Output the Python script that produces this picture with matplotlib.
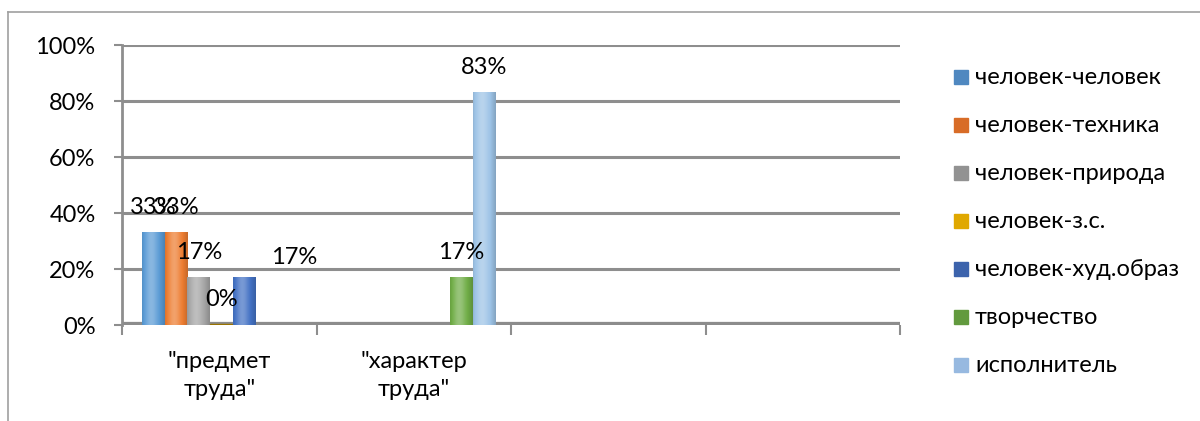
import matplotlib
matplotlib.use("Agg")
import matplotlib.pyplot as plt
import numpy as np
from matplotlib.patches import Rectangle
from matplotlib.colors import to_rgb
from matplotlib.lines import Line2D

plt.rcParams['font.family'] = ['Lato', 'DejaVu Sans']

# ---- data ----
categories = ['"предмет\nтруда"', '"характер\nтруда"', '', '']
series = ['человек-человек', 'человек-техника', 'человек-природа', 'человек-з.с.',
          'человек-худ.образ', 'творчество', 'исполнитель']
# values per series for each category (None = no bar)
values = {
    'человек-человек':   [0.33, None, None, None],
    'человек-техника':   [0.33, None, None, None],
    'человек-природа':   [0.17, None, None, None],
    'человек-з.с.':      [0.00, None, None, None],
    'человек-худ.образ': [0.17, None, None, None],
    'творчество':        [None, 0.17, None, None],
    'исполнитель':       [None, 0.83, None, None],
}
labels = {
    'человек-человек':   ['33%', None, None, None],
    'человек-техника':   ['33%', None, None, None],
    'человек-природа':   ['17%', None, None, None],
    'человек-з.с.':      ['0%', None, None, None],
    'человек-худ.образ': ['17%', None, None, None],
    'творчество':        [None, '17%', None, None],
    'исполнитель':       [None, '83%', None, None],
}
yticks = [0, 0.2, 0.4, 0.6, 0.8, 1.0]
ytick_labels = ['0%', '20%', '40%', '60%', '80%', '100%']

# ---- styles ----
colors = ['#5B9BD5', '#ED7D31', '#A5A5A5', '#FFC000', '#4472C4', '#70AD47', '#9DC3E6']
legend_colors = ['#4F88C0', '#D86C27', '#929292', '#E0A800', '#3C63AC', '#629A3E', '#97B9E0']
label_offsets = {('человек-худ.образ', 0): (36, 14)}  # manually moved label
FS = 17

fig = plt.figure(figsize=(12, 4.21), dpi=100)
ax = fig.add_axes([122/1200, 1-325/421, (900-122)/1200, (325-45)/421])

ncat = len(categories)
ax.set_xlim(0, ncat)
ax.set_ylim(0, 1.0)

bw = 22.7/194.5
start = 20/194.5

def shade(c, f):
    r = np.array(to_rgb(c))
    if f >= 0:
        return r + (1 - r) * f
    return r * (1 + f)

for si, name in enumerate(series):
    base = colors[si]
    prof = np.linspace(0, 1, 40)
    # cylinder-like shading: darker edges, lighter left-center
    f = 0.28 * np.exp(-((prof - 0.4) / 0.28) ** 2) - 0.6 * (np.abs(prof - 0.45) ** 2.2)
    img = np.array([[shade(base, v) for v in f]])
    img = np.clip(img, 0, 1)
    for ci, v in enumerate(values[name]):
        if v is None:
            continue
        x0 = ci + start + si * bw
        if v > 0:
            ax.imshow(img, extent=(x0, x0 + bw, 0, v), aspect='auto', zorder=3,
                      interpolation='bilinear')
        else:
            ax.add_patch(Rectangle((x0, 0), bw, 0.004, color=shade(base, -0.4), zorder=3))
        lab = labels[name][ci]
        if lab:
            dx, dy = label_offsets.get((name, ci), (0, 18))
            ax.annotate(lab, (x0 + bw / 2, v), xytext=(dx, dy), textcoords='offset points',
                        ha='center', va='center', fontsize=FS, color='black', zorder=5)

ax.set_xlim(0, ncat)
ax.set_ylim(0, 1.0)

# gridlines
for y in yticks[1:]:
    ax.axhline(y, color='#8E8E8E', lw=2.2, zorder=1)
# floor
ax.axhline(0, color='#8C8C8C', lw=4.5, zorder=2)

for s in ['top', 'right', 'bottom']:
    ax.spines[s].set_visible(False)
ax.spines['left'].set_color('#8E8E8E')
ax.spines['left'].set_linewidth(2)

ax.set_yticks(yticks)
ax.set_yticklabels(ytick_labels, fontsize=FS)
ax.tick_params(axis='y', length=6, width=1.5, color='#8E8E8E', pad=13)

ax.set_xticks(np.arange(ncat) + 0.5)
ax.set_xticklabels(categories, fontsize=FS, linespacing=1.4)
ax.set_xticks(np.arange(ncat + 1), minor=True)
ax.tick_params(axis='x', which='major', length=0, pad=19)
ax.tick_params(axis='x', which='minor', length=7, width=1.5, color='#8E8E8E')

# legend (manual)
for i, name in enumerate(series):
    yc = 1 - (77 + 48 * i) / 421
    fig.patches.append(Rectangle((954/1200, yc - 7/421), 14/1200, 14/421,
                                 transform=fig.transFigure, color=legend_colors[i]))
    fig.text(975/1200, yc, name, fontsize=FS, va='center', ha='left')

# outer chart border (partially visible)
fig.add_artist(Line2D([8/1200, 8/1200], [0, 1 - 12/421], transform=fig.transFigure,
                      color='#A0A0A0', lw=1.2))
fig.add_artist(Line2D([8/1200, 1], [1 - 12/421, 1 - 12/421], transform=fig.transFigure,
                      color='#A0A0A0', lw=1.2))

fig.savefig('out.png', dpi=100)
